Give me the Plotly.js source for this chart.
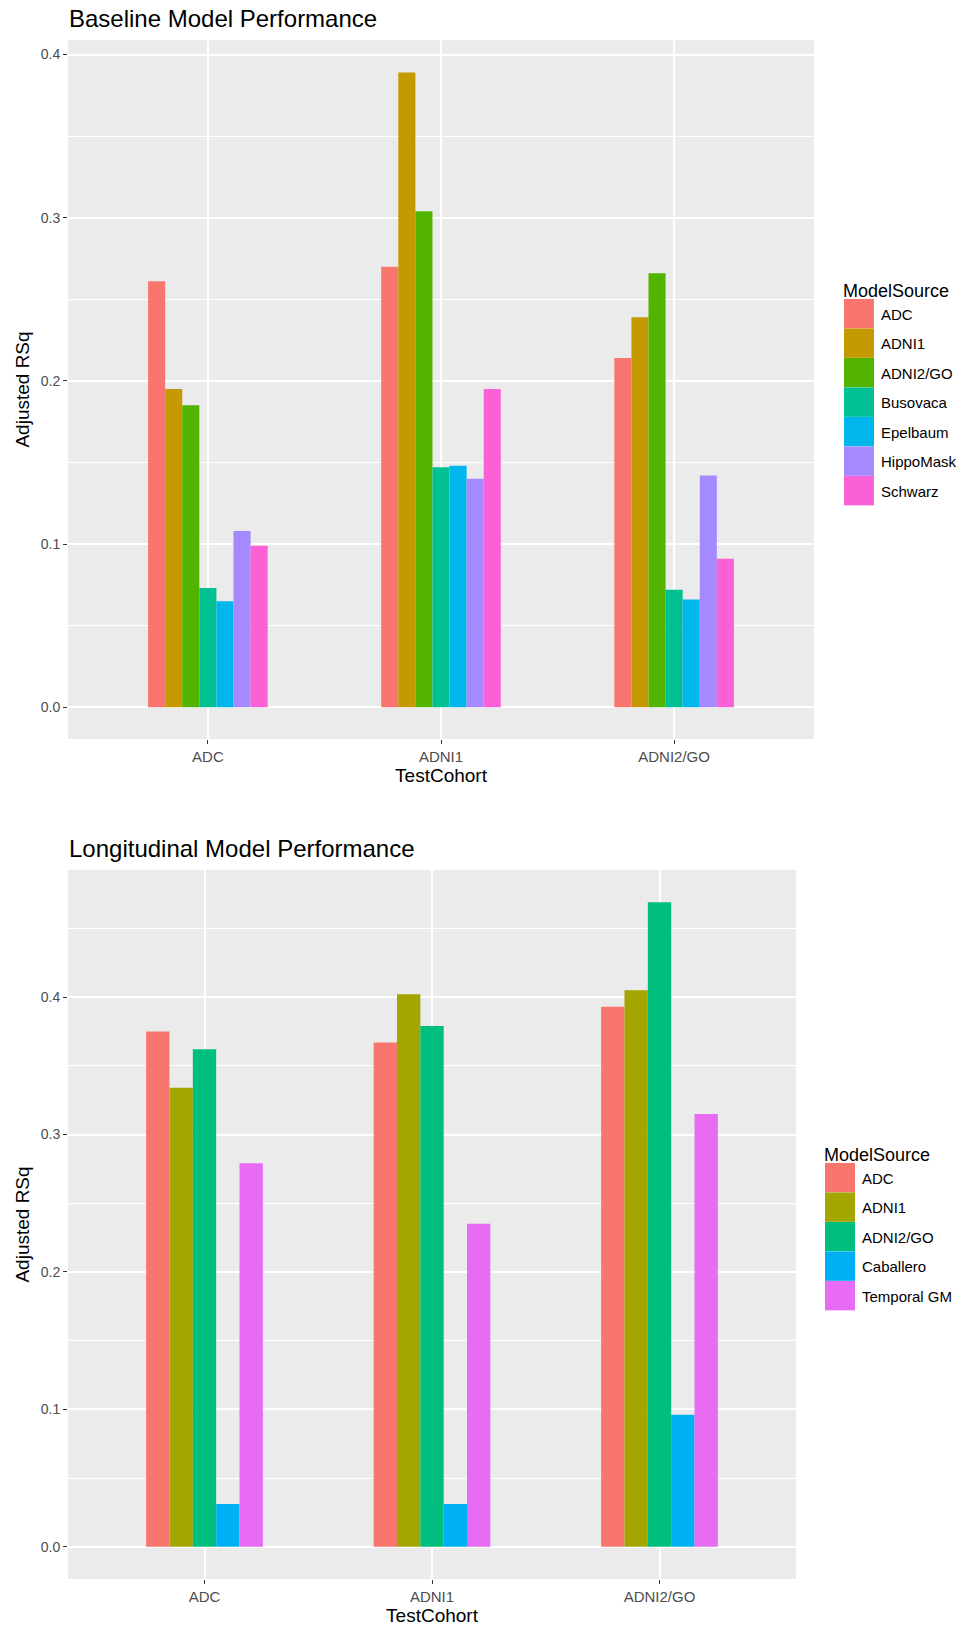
<!DOCTYPE html>
<html>
<head>
<meta charset="utf-8">
<script src="https://cdn.plot.ly/plotly-3.0.1.min.js"></script>
<style>
  html, body { margin: 0; padding: 0; background: #fff; }
  #chart { width: 966px; height: 1627px; }
  .legendpoints path {
    transform-box: fill-box;
    transform-origin: center;
    transform: translate(18px, 0) scale(2.5, 2.45);
  }
</style>
</head>
<body>
<div id="chart"></div>
<script>
// ---- Data ----
const cohorts = ["ADC", "ADNI1", "ADNI2/GO"];

const baselineSources = ["ADC", "ADNI1", "ADNI2/GO", "Busovaca", "Epelbaum", "HippoMask", "Schwarz"];
const baselineADC      = [0.261, 0.270, 0.214];
const baselineADNI1    = [0.195, 0.389, 0.239];
const baselineADNI2GO  = [0.185, 0.304, 0.266];
const baselineBusovaca = [0.073, 0.147, 0.072];
const baselineEpelbaum = [0.065, 0.148, 0.066];
const baselineHippo    = [0.108, 0.140, 0.142];
const baselineSchwarz  = [0.099, 0.195, 0.091];
const baselineValues = [baselineADC, baselineADNI1, baselineADNI2GO, baselineBusovaca, baselineEpelbaum, baselineHippo, baselineSchwarz];
const baselineColors = ["#F8766D", "#C49A00", "#53B400", "#00C094", "#00B6EB", "#A58AFF", "#FB61D7"];

const longSources = ["ADC", "ADNI1", "ADNI2/GO", "Caballero", "Temporal GM"];
const longADC       = [0.375, 0.367, 0.393];
const longADNI1     = [0.334, 0.402, 0.405];
const longADNI2GO   = [0.362, 0.379, 0.469];
const longCaballero = [0.031, 0.031, 0.096];
const longTemporal  = [0.279, 0.235, 0.315];
const longValues = [longADC, longADNI1, longADNI2GO, longCaballero, longTemporal];
const longColors = ["#F8766D", "#A3A500", "#00BF7D", "#00B0F6", "#E76BF3"];

const yTicks = [0.0, 0.1, 0.2, 0.3, 0.4];
const yTickText = ["0.0", "0.1", "0.2", "0.3", "0.4"];

// ---- Figure ----
const FONT = "Liberation Sans, Arial, Helvetica, sans-serif";
const W = 966, H = 1627;
const px = v => v / W;
const py = v => 1 - v / H;

const traces = [];
baselineSources.forEach((name, i) => {
  traces.push({
    type: "bar", name: name, x: cohorts, y: baselineValues[i],
    xaxis: "x", yaxis: "y", legend: "legend", legendgroup: "b" + i,
    marker: { color: baselineColors[i], line: { width: 0 } },
    hoverinfo: "x+y+name"
  });
});
longSources.forEach((name, i) => {
  traces.push({
    type: "bar", name: name, x: cohorts, y: longValues[i],
    xaxis: "x2", yaxis: "y2", legend: "legend2", legendgroup: "l" + i,
    marker: { color: longColors[i], line: { width: 0 } },
    hoverinfo: "x+y+name"
  });
});

function xAxis(domain, anchor) {
  return {
    domain: domain, anchor: anchor, type: "category",
    range: [-0.6, 2.6], fixedrange: true,
    showgrid: true, gridcolor: "#FFFFFF", gridwidth: 1.5,
    zeroline: false, showline: false,
    ticks: "outside", ticklen: 4, tickwidth: 1.1, tickcolor: "#333333",
    tickfont: { family: FONT, size: 15, color: "#4D4D4D" },
    title: { text: "TestCohort", font: { family: FONT, size: 19, color: "#000" }, standoff: 3 }
  };
}
function yAxis(domain, anchor, range) {
  return {
    domain: domain, anchor: anchor, range: range, fixedrange: true,
    tickmode: "array", tickvals: yTicks, ticktext: yTickText,
    showgrid: true, gridcolor: "#FFFFFF", gridwidth: 1.5,
    minor: { tickmode: "array", tickvals: [0.05, 0.15, 0.25, 0.35, 0.45], showgrid: true, gridcolor: "#FFFFFF", gridwidth: 0.8, ticks: "" },
    zeroline: false, showline: false,
    ticks: "outside", ticklen: 4, tickwidth: 1.1, tickcolor: "#333333",
    tickfont: { family: FONT, size: 14, color: "#4D4D4D" },
    title: { text: "Adjusted RSq", font: { family: FONT, size: 19, color: "#000" }, standoff: 6 }
  };
}

const legendCommon = {
  xanchor: "left", yanchor: "top",
  bgcolor: "rgba(0,0,0,0)", borderwidth: 0,
  font: { family: FONT, size: 15, color: "#000" },
  tracegroupgap: 7, itemclick: false, itemdoubleclick: false,
  traceorder: "grouped"
};

const layout = {
  width: W, height: H,
  margin: { l: 0, r: 0, t: 0, b: 0, autoexpand: false },
  paper_bgcolor: "#FFFFFF", plot_bgcolor: "#EBEBEB",
  barmode: "group", bargap: 0.487, bargroupgap: 0,
  font: { family: FONT },
  xaxis: xAxis([px(68), px(814)], "y"),
  yaxis: yAxis([py(739), py(40)], "x", [-0.0195, 0.4089]),
  xaxis2: xAxis([px(68), px(796)], "y2"),
  yaxis2: yAxis([py(1579), py(870)], "x2", [-0.0235, 0.4925]),
  legend: Object.assign({}, legendCommon, {
    x: px(841), y: py(274),
    title: { text: "ModelSource", font: { family: FONT, size: 18, color: "#000" } }
  }),
  legend2: Object.assign({}, legendCommon, {
    x: px(822), y: py(1138),
    title: { text: "ModelSource", font: { family: FONT, size: 18, color: "#000" } }
  }),
  annotations: [
    { text: "Baseline Model Performance", xref: "paper", yref: "paper",
      x: px(67), y: py(18), xanchor: "left", yanchor: "middle", showarrow: false,
      font: { family: FONT, size: 24, color: "#000" } },
    { text: "Longitudinal Model Performance", xref: "paper", yref: "paper",
      x: px(67), y: py(848), xanchor: "left", yanchor: "middle", showarrow: false,
      font: { family: FONT, size: 24, color: "#000" } }
  ]
};

Plotly.newPlot("chart", traces, layout, { displayModeBar: false, staticPlot: false });
</script>
</body>
</html>
